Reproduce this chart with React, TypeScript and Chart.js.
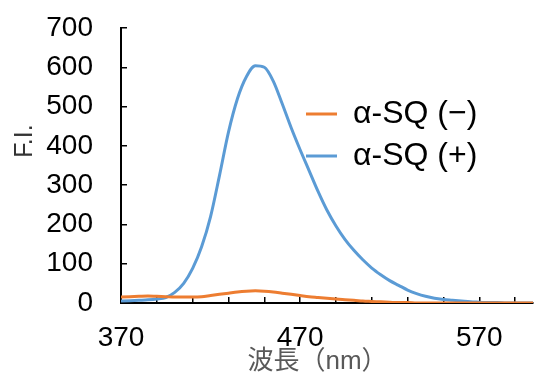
import React, { useEffect, useRef } from "react";
import { Chart, registerables } from "chart.js";

Chart.register(...registerables);

const wavelengths = [
  370, 375, 380, 385, 390, 395, 400, 405, 410, 415, 420, 425, 430, 435, 440, 445,
  450, 455, 460, 465, 470, 475, 480, 485, 490, 495, 500, 505, 510, 515, 520, 525,
  530, 535, 540, 545, 550, 555, 560, 565, 570, 575, 580, 585, 590, 595, 600,
];
const seriesMinus = [
  15, 16, 17, 18, 17, 16, 15, 15, 15, 16, 19, 22, 25, 28, 30, 31,
  30, 28, 25, 22, 19, 16, 14, 12, 10, 8, 7, 5, 4, 3, 2, 1,
  1, 0, 0, 0, 0, 0, 0, 0, 0, 0, 0, 0, 0, 0, 0,
];
const seriesPlus = [
  5, 6, 7, 8, 10, 14, 27, 50, 88, 143, 220, 325, 435, 520, 576, 604,
  600, 565, 507, 446, 390, 337, 284, 236, 196, 162, 134, 110, 89, 72, 57, 45,
  33, 24, 17, 12, 9, 7, 5, 3, 2, 1, 1, 0, 0, 0, 0,
];
const seriesNames = ["α-SQ (−)", "α-SQ (+)"];
const seriesColors = ["#ED7D31", "#5B9BD5"];
const xTicks = [370, 390, 410, 430, 450, 470, 490, 510, 530, 550, 570, 590];
const xLabelTicks = [370, 470, 570];
const xTitle = "波長（nm）";
const yTitle = "F.I.";

const FONT = '"Liberation Sans", Arial, "Noto Sans CJK JP", sans-serif';

const legendPlacer = {
  id: "legendPlacer",
  afterLayout(chart: any) {
    const lg = chart.legend;
    const ca = chart.chartArea;
    if (!lg || !ca) return;
    lg.left = ca.left + 175;
    lg.right = chart.width;
    lg.top = ca.top + 60;
    lg.bottom = ca.bottom;
    lg.width = lg.right - lg.left;
    lg.height = lg.bottom - lg.top;
  },
};

const axisTitles = {
  id: "axisTitles",
  afterDraw(chart: any) {
    const { ctx, chartArea } = chart;
    ctx.save();
    ctx.textAlign = "center";
    ctx.textBaseline = "middle";
    ctx.font = `26px ${FONT}`;
    ctx.fillStyle = "#595959";
    ctx.fillText(xTitle, chartArea.left + 0.477 * chartArea.width, chartArea.bottom + 59);
    ctx.translate(chartArea.left - 96, chartArea.top + 113);
    ctx.rotate(-Math.PI / 2);
    ctx.font = `25px ${FONT}`;
    ctx.fillStyle = "#333333";
    ctx.fillText(yTitle, 0, 0);
    ctx.restore();
  },
};

export default function App() {
  const ref = useRef<HTMLCanvasElement | null>(null);

  useEffect(() => {
    if (!ref.current) return;
    const mk = (vals: number[]) => wavelengths.map((x, i) => ({ x, y: vals[i] }));
    const chart = new Chart(ref.current, {
      type: "line",
      data: {
        datasets: [
          {
            label: seriesNames[0],
            data: mk(seriesMinus),
            borderColor: seriesColors[0],
            backgroundColor: seriesColors[0],
            pointBorderColor: seriesColors[0],
            borderWidth: 3,
            pointBorderWidth: 3,
            pointRadius: 0,
            cubicInterpolationMode: "monotone",
            fill: false,
          },
          {
            label: seriesNames[1],
            data: mk(seriesPlus),
            borderColor: seriesColors[1],
            backgroundColor: seriesColors[1],
            pointBorderColor: seriesColors[1],
            borderWidth: 3,
            pointBorderWidth: 3,
            pointRadius: 0,
            cubicInterpolationMode: "monotone",
            fill: false,
          },
        ],
      },
      options: {
        responsive: false,
        animation: false,
        layout: { padding: { top: 28, right: 1, left: 0, bottom: 0 } },
        plugins: {
          tooltip: { enabled: false },
          legend: {
            display: true,
            position: "chartArea" as any,
            align: "start",
            labels: {
              usePointStyle: true,
              pointStyle: "line",
              pointStyleWidth: 31,
              padding: 10,
              color: "#000000",
              font: { family: FONT, size: 32 },
            },
          },
        },
        scales: {
          x: {
            type: "linear",
            min: 370,
            max: 600,
            afterBuildTicks: (scale: any) => {
              scale.ticks = xTicks.map((v) => ({ value: v }));
            },
            afterFit: (scale: any) => {
              scale.height = 73;
              scale.paddingLeft = 0;
              scale.paddingRight = 0;
            },
            ticks: {
              autoSkip: false,
              maxRotation: 0,
              padding: 24,
              color: "#000000",
              font: { family: FONT, size: 28 },
              callback: (v: any) => (xLabelTicks.includes(Number(v)) ? String(v) : ""),
            },
            grid: {
              drawOnChartArea: false,
              drawTicks: true,
              tickLength: -6,
              color: "#000000",
              lineWidth: 1.5,
            },
            border: { display: true, color: "#000000", width: 2 },
          },
          y: {
            type: "linear",
            min: 0,
            max: 700,
            afterFit: (scale: any) => {
              scale.width = 121;
              scale.paddingTop = 0;
              scale.paddingBottom = 0;
            },
            ticks: {
              stepSize: 100,
              padding: 34,
              color: "#000000",
              font: { family: FONT, size: 28 },
            },
            grid: {
              drawOnChartArea: false,
              drawTicks: true,
              tickLength: -6,
              color: "#000000",
              lineWidth: 1.5,
            },
            border: { display: true, color: "#000000", width: 2 },
          },
        },
      },
      plugins: [legendPlacer, axisTitles],
    });
    return () => chart.destroy();
  }, []);

  return (
    <div style={{ position: "absolute", left: 0, top: 0, width: 534, height: 376, background: "#ffffff" }}>
      <canvas ref={ref} width={534} height={376} style={{ display: "block" }} />
    </div>
  );
}
